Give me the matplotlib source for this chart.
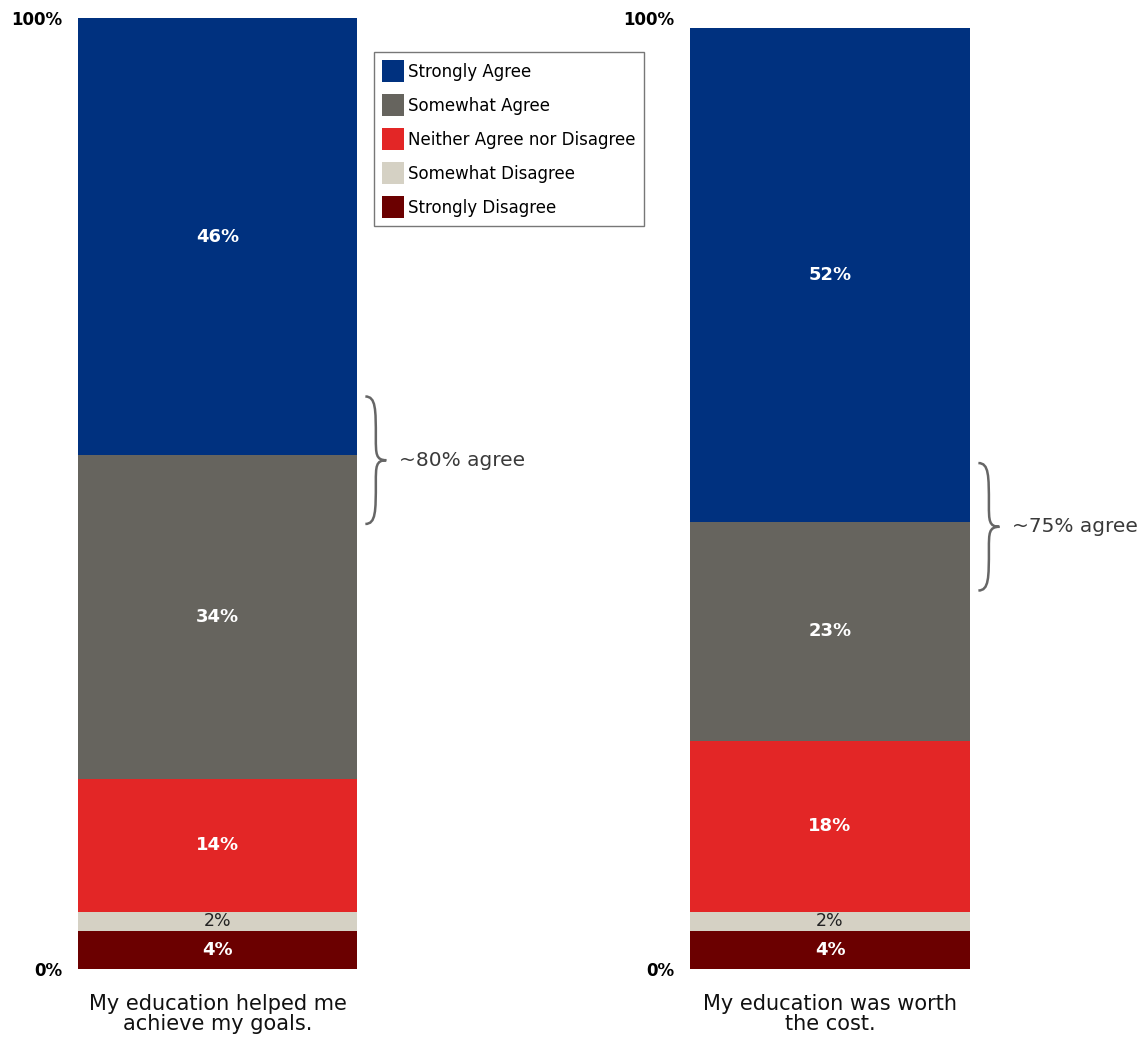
import matplotlib.pyplot as plt
from matplotlib.path import Path
from matplotlib.patches import PathPatch, Patch

plt.rcParams['font.family'] = ['DejaVu Sans']

categories = ["Strongly Disagree", "Somewhat Disagree", "Neither Agree nor Disagree",
              "Somewhat Agree", "Strongly Agree"]
colors = ["#6B0000", "#D5D1C4", "#E32626", "#66645E", "#00317F"]
goals = [4, 2, 14, 34, 46]
cost = [4, 2, 18, 23, 52]
questions = ["My education helped me\nachieve my goals.", "My education was worth\nthe cost."]
agree_notes = ["~80% agree", "~75% agree"]


def draw_brace(ax, x0, w, ymid, half):
    xm = x0 + w / 2
    x1 = x0 + w
    yt, yb = ymid + half, ymid - half
    verts = [(x0, yt),
             (xm, yt), (xm, yt - 0.2 * half), (xm, ymid + 0.35 * half),
             (xm, ymid + 0.1 * half), (xm, ymid), (x1, ymid),
             (xm, ymid), (xm, ymid - 0.1 * half), (xm, ymid - 0.35 * half),
             (xm, yb + 0.2 * half), (xm, yb), (x0, yb)]
    codes = [Path.MOVETO] + [Path.CURVE4] * 12
    ax.add_patch(PathPatch(Path(verts, codes), fill=False, edgecolor="#666666",
                           lw=1.8, clip_on=False))


W, H = 1147, 1042
fig = plt.figure(figsize=(W / 100, H / 100), dpi=100)
ax_left = fig.add_axes([78 / W, (H - 969) / H, 279 / W, 951 / H])
ax_right = fig.add_axes([690 / W, (H - 969) / H, 280 / W, 951 / H])

for ax, vals, q, note in zip([ax_left, ax_right], [goals, cost], questions, agree_notes):
    bottom = 0
    for v, c, name in zip(vals, colors, categories):
        ax.bar(0, v, width=1, bottom=bottom, color=c, label=name)
        if v <= 2:
            ax.text(0, bottom + v / 2, f"{v}%", ha="center", va="center",
                    color="#222222", fontsize=12.5)
        else:
            ax.text(0, bottom + v / 2, f"{v}%", ha="center", va="center",
                    color="white", fontsize=13, fontweight="bold")
        bottom += v
    ax.set_xlim(-0.5, 0.5)
    ax.set_ylim(0, 100)
    ax.set_xticks([])
    ax.set_yticks([0, 100])
    ax.set_yticklabels(["0%", "100%"], fontweight="bold", fontsize=12)
    ax.tick_params(axis="y", length=0, pad=11)
    for s in ax.spines.values():
        s.set_visible(False)
    ax.text(0, -2.6, q, ha="center", va="top", fontsize=15, color="#111111",
            linespacing=1.0)
    boundary = sum(vals[:4])
    draw_brace(ax, 0.53, 0.075, boundary - 0.5, 6.7)
    ax.text(0.65, boundary - 0.5, note, ha="left", va="center", fontsize=14.5,
            color="#3a3a3a", clip_on=False)

handles = [Patch(facecolor=c, label=n) for c, n in zip(colors[::-1], categories[::-1])]
fig.legend(handles=handles, loc="upper left", bbox_to_anchor=(374 / W, 1 - 52 / H),
           fontsize=12, frameon=True, fancybox=False, edgecolor="#555555",
           handlelength=1.32, handleheight=1.65, handletextpad=0.2, labelspacing=0.72,
           borderpad=0.5, borderaxespad=0)

fig.savefig("out.png", dpi=100)
